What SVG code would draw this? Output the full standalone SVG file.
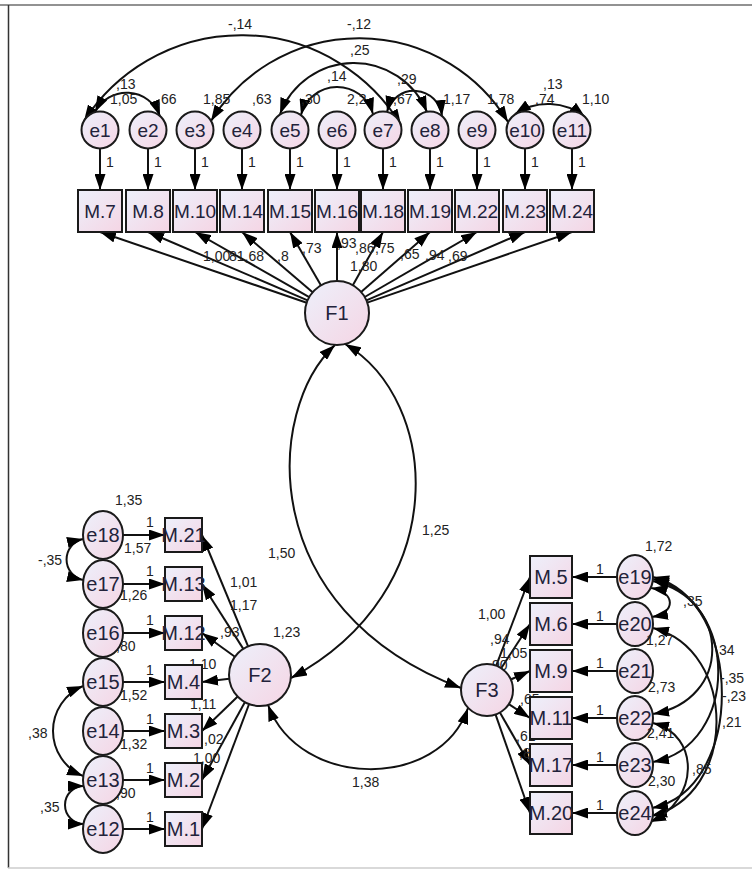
<svg xmlns="http://www.w3.org/2000/svg" width="752" height="873" viewBox="0 0 752 873">
<defs>
<linearGradient id="gn" x1="0" y1="0" x2="1" y2="1"><stop offset="0" stop-color="#edf0fb"/><stop offset="1" stop-color="#f5d5e4"/></linearGradient>
<marker id="ah" viewBox="0 0 16 11" refX="16" refY="5.5" markerWidth="16" markerHeight="11" markerUnits="userSpaceOnUse" orient="auto-start-reverse"><path d="M0,0L16,5.5L0,11z" fill="#000"/></marker>
</defs>
<style>
.nd{fill:url(#gn);stroke:#1a1a1a;stroke-width:2}
.tn{font-family:"Liberation Sans",Arial,sans-serif;font-size:19px;fill:#22223a;text-anchor:middle}
.tb{font-size:20px}
.lb{font-family:"Liberation Sans",Arial,sans-serif;font-size:14px;fill:#222}
#conn path,#conn line{fill:none;stroke:#111;stroke-width:2;marker-end:url(#ah)}
#conn .d{marker-start:url(#ah)}
.fr{stroke-width:1.5;fill:none}
</style>
<rect x="0" y="0" width="752" height="873" fill="#fff"/>
<g id="frame">
<line class="fr" x1="0" y1="5" x2="752" y2="5" stroke="#6e6e6e" stroke-width="3"/>
<line class="fr" x1="8.5" y1="5" x2="8.5" y2="868" stroke="#333"/>
<line class="fr" x1="8" y1="868" x2="752" y2="868" stroke="#ccc"/>
</g>
<g id="conn">
<line x1="100" y1="148.5" x2="100" y2="190"/>
<line x1="148" y1="148.5" x2="148" y2="190"/>
<line x1="195" y1="148.5" x2="195" y2="190"/>
<line x1="242" y1="148.5" x2="242" y2="190"/>
<line x1="290" y1="148.5" x2="290" y2="190"/>
<line x1="337" y1="148.5" x2="337" y2="190"/>
<line x1="383" y1="148.5" x2="383" y2="190"/>
<line x1="430" y1="148.5" x2="430" y2="190"/>
<line x1="477" y1="148.5" x2="477" y2="190"/>
<line x1="525" y1="148.5" x2="525" y2="190"/>
<line x1="572" y1="148.5" x2="572" y2="190"/>
<line x1="306.7" y1="302.7" x2="100" y2="232"/>
<line x1="307.6" y1="300.4" x2="148" y2="232"/>
<line x1="309.2" y1="297.1" x2="195" y2="232"/>
<line x1="312.6" y1="292.2" x2="242" y2="232"/>
<line x1="320.9" y1="285.3" x2="290" y2="232"/>
<line x1="337" y1="281" x2="337" y2="232"/>
<line x1="352.8" y1="285.2" x2="383" y2="232"/>
<line x1="361.1" y1="292" x2="430" y2="232"/>
<line x1="364.7" y1="297" x2="477" y2="232"/>
<line x1="366.4" y1="300.3" x2="525" y2="232"/>
<line x1="367.2" y1="302.6" x2="572" y2="232"/>
<path class="d" d="M84,121 A187,187 0 0 1 401,125"/>
<path class="d" d="M211,121 A174,174 0 0 1 508,122"/>
<path class="d" d="M280,114 A79,79 0 0 1 427,112"/>
<path class="d" d="M301,115 A37.3,37.3 0 0 1 373,114"/>
<path class="d" d="M387,112 A28,28 0 0 1 442,116"/>
<path class="d" d="M95,112 A35.6,35.6 0 0 1 160,116"/>
<path class="d" d="M515,114 A59,59 0 0 1 585,117"/>
<line x1="123" y1="535" x2="165" y2="535"/>
<line x1="123" y1="584" x2="165" y2="584"/>
<line x1="123" y1="633" x2="165" y2="633"/>
<line x1="123" y1="682" x2="165" y2="682"/>
<line x1="123" y1="731" x2="165" y2="731"/>
<line x1="123" y1="780" x2="165" y2="780"/>
<line x1="123" y1="829" x2="165" y2="829"/>
<line x1="248.1" y1="646.4" x2="202" y2="535"/>
<line x1="243.3" y1="648.9" x2="202" y2="584"/>
<line x1="234.9" y1="656.8" x2="202" y2="633"/>
<line x1="229.2" y1="678.7" x2="202" y2="682"/>
<line x1="237.7" y1="696.5" x2="202" y2="731"/>
<line x1="245" y1="702.1" x2="202" y2="780"/>
<line x1="249.1" y1="704" x2="202" y2="829"/>
<path class="d" d="M83,539 A21,21 0 0 0 83,580"/>
<path class="d" d="M83,686 A48.75,48.75 0 0 0 83,776"/>
<path class="d" d="M84,786 A19,19 0 0 0 84,824"/>
<path class="d" d="M335,345 C265,410 255,610 461,688"/>
<path class="d" d="M345,344 C440,400 455,590 291,678"/>
<path class="d" d="M268,705 C300,790 440,790 468,708"/>
<line x1="496.2" y1="665.7" x2="530" y2="577"/>
<line x1="501.2" y1="668.2" x2="530" y2="624"/>
<line x1="510.8" y1="679.5" x2="530" y2="671"/>
<line x1="508.8" y1="704.2" x2="530" y2="718"/>
<line x1="499.9" y1="712.5" x2="530" y2="765"/>
<line x1="495.6" y1="714.6" x2="530" y2="813"/>
<line x1="617" y1="577" x2="572" y2="577"/>
<line x1="617" y1="624" x2="572" y2="624"/>
<line x1="617" y1="671" x2="572" y2="671"/>
<line x1="617" y1="718" x2="572" y2="718"/>
<line x1="617" y1="765" x2="572" y2="765"/>
<line x1="617" y1="813" x2="572" y2="813"/>
<path class="d" d="M651,588 C676,592 676,613 652,617"/>
<path class="d" d="M653,581 C732,600 732,700 653,714"/>
<path class="d" d="M653,579 C740,600 740,745 653,762"/>
<path class="d" d="M653,577 C745,600 745,790 652,808"/>
<path class="d" d="M653,628 C738,650 738,795 651,816"/>
<path class="d" d="M653,723 C700,735 700,800 650,822"/>
</g>
<g id="conn-labels" class="lb">
<text x="106" y="167">1</text><text x="154" y="167">1</text><text x="201" y="167">1</text><text x="248" y="167">1</text><text x="296" y="167">1</text><text x="343" y="167">1</text><text x="389" y="167">1</text><text x="436" y="167">1</text><text x="483" y="167">1</text><text x="531" y="167">1</text><text x="578" y="167">1</text>
<text x="228" y="29">-,14</text>
<text x="347" y="29">-,12</text>
<text x="350" y="55">,25</text>
<text x="327" y="81">,14</text>
<text x="397" y="84">,29</text>
<text x="116" y="89">,13</text>
<text x="543" y="89">,13</text>
<text x="203" y="261">1,00</text>
<text x="229" y="261">81,68</text>
<text x="277" y="261">,8</text>
<text x="302" y="253">,73</text>
<text x="337" y="248">,93</text>
<text x="355" y="253">,86</text>
<text x="375" y="253">,75</text>
<text x="350" y="271">1,80</text>
<text x="400" y="259">,65</text>
<text x="425" y="260">,94</text>
<text x="448" y="261">,69</text>
<text x="146" y="527">1</text><text x="146" y="576">1</text><text x="146" y="625">1</text><text x="146" y="675">1</text><text x="146" y="724">1</text><text x="146" y="773">1</text><text x="146" y="822">1</text>
<text x="38" y="565">-,35</text>
<text x="28" y="738">,38</text>
<text x="40" y="812">,35</text>
<text x="230" y="587">1,01</text>
<text x="230" y="610">1,17</text>
<text x="220" y="637">,93</text>
<text x="189" y="669">1,10</text>
<text x="190" y="709">1,11</text>
<text x="204" y="744">,02</text>
<text x="193" y="763">1,00</text>
<text x="268" y="558">1,50</text>
<text x="422" y="535">1,25</text>
<text x="352" y="787">1,38</text>
<text x="478" y="619">1,00</text>
<text x="490" y="644">,94</text>
<text x="500" y="658">1,05</text>
<text x="488" y="670">,90</text>
<text x="520" y="704">,65</text>
<text x="516" y="741">,61</text>
<text x="519" y="758">,8</text>
<text x="596" y="574">1</text><text x="596" y="621">1</text><text x="596" y="668">1</text><text x="596" y="715">1</text><text x="596" y="762">1</text><text x="596" y="810">1</text>
<text x="683" y="606">,35</text>
<text x="715" y="655">,34</text>
<text x="720" y="683">-,35</text>
<text x="722" y="701">-,23</text>
<text x="722" y="727">,21</text>
<text x="692" y="774">,85</text>
</g>
<g id="e1"><circle class="nd" cx="100" cy="130" r="18.5"/><text class="tn" x="100" y="137">e1</text><text class="lb" x="110" y="104">1,05</text></g>
<g id="e2"><circle class="nd" cx="148" cy="130" r="18.5"/><text class="tn" x="148" y="137">e2</text><text class="lb" x="157" y="104">,66</text></g>
<g id="e3"><circle class="nd" cx="195" cy="130" r="18.5"/><text class="tn" x="195" y="137">e3</text><text class="lb" x="203" y="104">1,85</text></g>
<g id="e4"><circle class="nd" cx="242" cy="130" r="18.5"/><text class="tn" x="242" y="137">e4</text><text class="lb" x="252" y="104">,63</text></g>
<g id="e5"><circle class="nd" cx="290" cy="130" r="18.5"/><text class="tn" x="290" y="137">e5</text><text class="lb" x="301" y="104">,30</text></g>
<g id="e6"><circle class="nd" cx="337" cy="130" r="18.5"/><text class="tn" x="337" y="137">e6</text><text class="lb" x="347" y="104">2,2</text></g>
<g id="e7"><circle class="nd" cx="383" cy="130" r="18.5"/><text class="tn" x="383" y="137">e7</text><text class="lb" x="393" y="104">,67</text></g>
<g id="e8"><circle class="nd" cx="430" cy="130" r="18.5"/><text class="tn" x="430" y="137">e8</text><text class="lb" x="443" y="104">1,17</text></g>
<g id="e9"><circle class="nd" cx="477" cy="130" r="18.5"/><text class="tn" x="477" y="137">e9</text><text class="lb" x="487" y="104">1,78</text></g>
<g id="e10"><circle class="nd" cx="525" cy="130" r="18.5"/><text class="tn" x="525" y="137">e10</text><text class="lb" x="535" y="104">,74</text></g>
<g id="e11"><circle class="nd" cx="572" cy="130" r="18.5"/><text class="tn" x="572" y="137">e11</text><text class="lb" x="582" y="104">1,10</text></g>
<g id="M7"><rect class="nd" x="78" y="190" width="44" height="42"/><text class="tn" x="100" y="218">M.7</text></g>
<g id="M8"><rect class="nd" x="126" y="190" width="44" height="42"/><text class="tn" x="148" y="218">M.8</text></g>
<g id="M10"><rect class="nd" x="173" y="190" width="44" height="42"/><text class="tn" x="195" y="218">M.10</text></g>
<g id="M14"><rect class="nd" x="220" y="190" width="44" height="42"/><text class="tn" x="242" y="218">M.14</text></g>
<g id="M15"><rect class="nd" x="268" y="190" width="44" height="42"/><text class="tn" x="290" y="218">M.15</text></g>
<g id="M16"><rect class="nd" x="315" y="190" width="44" height="42"/><text class="tn" x="337" y="218">M.16</text></g>
<g id="M18"><rect class="nd" x="361" y="190" width="44" height="42"/><text class="tn" x="383" y="218">M.18</text></g>
<g id="M19"><rect class="nd" x="408" y="190" width="44" height="42"/><text class="tn" x="430" y="218">M.19</text></g>
<g id="M22"><rect class="nd" x="455" y="190" width="44" height="42"/><text class="tn" x="477" y="218">M.22</text></g>
<g id="M23"><rect class="nd" x="503" y="190" width="44" height="42"/><text class="tn" x="525" y="218">M.23</text></g>
<g id="M24"><rect class="nd" x="550" y="190" width="44" height="42"/><text class="tn" x="572" y="218">M.24</text></g>
<g id="F1"><circle class="nd" cx="337" cy="313" r="32"/><text class="tn tb" x="337" y="320">F1</text></g>
<g id="F2"><circle class="nd" cx="260" cy="675" r="31"/><text class="tn tb" x="260" y="682">F2</text><text class="lb" x="273" y="637">1,23</text></g>
<g id="F3"><circle class="nd" cx="487" cy="690" r="26"/><text class="tn tb" x="487" y="697">F3</text></g>
<g id="e18"><ellipse class="nd" cx="103" cy="535" rx="20" ry="24"/><text class="tn tb" x="103" y="542">e18</text><text class="lb" x="115" y="505">1,35</text></g>
<g id="e17"><ellipse class="nd" cx="103" cy="584" rx="20" ry="24"/><text class="tn tb" x="103" y="591">e17</text><text class="lb" x="124" y="553">1,57</text></g>
<g id="e16"><ellipse class="nd" cx="103" cy="633" rx="20" ry="24"/><text class="tn tb" x="103" y="640">e16</text><text class="lb" x="120" y="600">1,26</text></g>
<g id="e15"><ellipse class="nd" cx="103" cy="682" rx="20" ry="24"/><text class="tn tb" x="103" y="689">e15</text><text class="lb" x="116" y="651">,80</text></g>
<g id="e14"><ellipse class="nd" cx="103" cy="731" rx="20" ry="24"/><text class="tn tb" x="103" y="738">e14</text><text class="lb" x="120" y="700">1,52</text></g>
<g id="e13"><ellipse class="nd" cx="103" cy="780" rx="20" ry="24"/><text class="tn tb" x="103" y="787">e13</text><text class="lb" x="120" y="749">1,32</text></g>
<g id="e12"><ellipse class="nd" cx="103" cy="829" rx="20" ry="24"/><text class="tn tb" x="103" y="836">e12</text><text class="lb" x="116" y="798">,90</text></g>
<g id="M21"><rect class="nd" x="165" y="518" width="37" height="34"/><text class="tn tb" x="183.5" y="542">M.21</text></g>
<g id="M13"><rect class="nd" x="165" y="567" width="37" height="34"/><text class="tn tb" x="183.5" y="591">M.13</text></g>
<g id="M12"><rect class="nd" x="165" y="616" width="37" height="34"/><text class="tn tb" x="183.5" y="640">M.12</text></g>
<g id="M4"><rect class="nd" x="165" y="665" width="37" height="34"/><text class="tn tb" x="183.5" y="689">M.4</text></g>
<g id="M3"><rect class="nd" x="165" y="714" width="37" height="34"/><text class="tn tb" x="183.5" y="738">M.3</text></g>
<g id="M2"><rect class="nd" x="165" y="763" width="37" height="34"/><text class="tn tb" x="183.5" y="787">M.2</text></g>
<g id="M1"><rect class="nd" x="165" y="812" width="37" height="34"/><text class="tn tb" x="183.5" y="836">M.1</text></g>
<g id="M5"><rect class="nd" x="530" y="556" width="42" height="42"/><text class="tn tb" x="551" y="584">M.5</text></g>
<g id="M6"><rect class="nd" x="530" y="603" width="42" height="42"/><text class="tn tb" x="551" y="631">M.6</text></g>
<g id="M9"><rect class="nd" x="530" y="650" width="42" height="42"/><text class="tn tb" x="551" y="678">M.9</text></g>
<g id="M11"><rect class="nd" x="530" y="697" width="42" height="42"/><text class="tn tb" x="551" y="725">M.11</text></g>
<g id="M17"><rect class="nd" x="530" y="744" width="42" height="42"/><text class="tn tb" x="551" y="772">M.17</text></g>
<g id="M20"><rect class="nd" x="530" y="792" width="42" height="42"/><text class="tn tb" x="551" y="820">M.20</text></g>
<g id="e19"><ellipse class="nd" cx="635" cy="577" rx="18" ry="22"/><text class="tn tb" x="635" y="584">e19</text><text class="lb" x="645" y="551">1,72</text></g>
<g id="e20"><ellipse class="nd" cx="635" cy="624" rx="18" ry="22"/><text class="tn tb" x="635" y="631">e20</text></g>
<g id="e21"><ellipse class="nd" cx="635" cy="671" rx="18" ry="22"/><text class="tn tb" x="635" y="678">e21</text><text class="lb" x="646" y="645">1,27</text></g>
<g id="e22"><ellipse class="nd" cx="635" cy="718" rx="18" ry="22"/><text class="tn tb" x="635" y="725">e22</text><text class="lb" x="648" y="692">2,73</text></g>
<g id="e23"><ellipse class="nd" cx="635" cy="765" rx="18" ry="22"/><text class="tn tb" x="635" y="772">e23</text><text class="lb" x="647" y="738">2,41</text></g>
<g id="e24"><ellipse class="nd" cx="635" cy="813" rx="18" ry="22"/><text class="tn tb" x="635" y="820">e24</text><text class="lb" x="648" y="786">2,30</text></g>
</svg>
